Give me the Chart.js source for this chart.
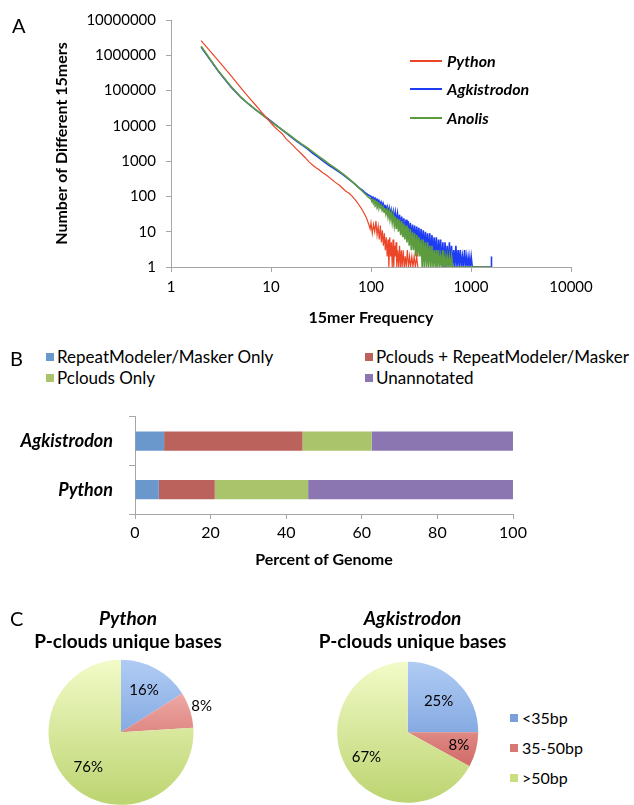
<!DOCTYPE html>
<html><head><meta charset="utf-8">
<script src="https://cdn.jsdelivr.net/npm/chart.js@4.4.1/dist/chart.umd.min.js"></script>
<style>
html,body{margin:0;padding:0;background:#fff;}
body{width:634px;height:805px;position:relative;overflow:hidden;font-family:Lato,"Open Sans",sans-serif;color:#000;}
.abs{position:absolute;white-space:nowrap;}
canvas{display:block}
.lbl{position:absolute;white-space:nowrap;height:24px;line-height:24px;}
</style></head><body>
<div class="abs" style="left:0;top:0;"><canvas id="cA" width="634" height="335"></canvas></div>
<div class="abs" style="left:0;top:390px;"><canvas id="cB" width="634" height="185"></canvas></div>
<div class="abs" style="left:0;top:650px;"><canvas id="cC1" width="260" height="155"></canvas></div>
<div class="abs" style="left:290px;top:650px;"><canvas id="cC2" width="210" height="155"></canvas></div>
<div id="overlay"></div>
<script>
// ---------- Panel A data ----------
const lineSeriesNames = ['Python', 'Agkistrodon', 'Anolis'];
const pythonFreq  = [2,3,4,5,6,7,8,9,10,11,12,13,14,15,16,18,20,22,24,26,28,30,33,36,40,44,48,52,56,60,65,70,75,80,85,90,95,98,100,103,106,109,112,115,118,121,124,127,130,133,136,139,142,145,148,151,154,157,160,163,166,169,172,175,178,181,185,189,193,197,201,205,210,215,220,225,231,237,243,249,256,263,270,278,286,294];
const pythonCount = [2600000,680000,260000,120000,64000,39000,25000,17000,12000,9000,7200,5900,4400,3700,3100,2200,1650,1250,950,780,660,580,470,400,310,250,210,170,140,125,100,78,60,46,34,25,16,12,18,9,16,10,20,8,14,6,15,5,11,4,9,3,7,2,6,1,7,2,5,1,6,1,4,2,5,1,3,1,4,1,3,1,3,1,2,1,3,1,2,1,2,1,2,1,2,1];
const agkFreq  = [2,3,4,5,6,7,8,9,10,12,14,16,18,20,23,26,30,34,38,42,47,52,58,64,70,76,82,88,94,100,102,105,107,110,112,115,117,120,123,126,129,132,135,138,141,145,148,152,155,159,163,167,171,175,179,184,188,193,198,203,208,213,218,224,229,235,241,247,253,260,266,273,280,287,294,301,309,317,325,333,341,350,359,368,377,387,397,407,417,428,439,450,461,473,485,497,510,523,536,550,564,578,593,608,623,639,655,672,689,706,724,743,762,781,801,821,842,863,885,908,931,955,979,1004,1030,1595,1600,1605];
const agkCount = [1700000,340000,125000,64000,41000,29000,22000,17000,13500,9000,6400,4800,3700,3000,2250,1700,1250,960,760,640,510,420,330,265,215,175,150,125,110,100,88,94,80,88,74,82,68,76,60,70,54,64,48,58,42,52,36,48,30,42,26,38,22,35,18,32,15,30,13,27,11,24,9,22,8,20,7,18,6,16,5,15,5,14,4,13,4,12,3,11,3,10,3,9,2,9,2,8,2,7,2,7,1,6,2,6,1,5,1,5,1,4,1,5,1,4,1,3,1,4,1,3,1,3,1,2,1,3,1,2,1,2,1,2,1,1,2,1];
const anolisFreq  = [2,3,4,5,6,7,8,9,10,12,14,16,18,20,23,26,30,34,38,42,47,52,58,64,70,76,82,88,94,100,102,105,107,110,112,115,117,120,123,126,129,132,135,138,141,145,148,152,155,159,163,167,171,175,179,184,188,193,198,203,208,213,218,224,229,235,241,247,253,260,266,273,280,287,294,301,309,317,325,333,341,350,359,368,377,387,397,407,417,428,439,450,461,473,485,497,510,523,536,550,564,578,593,608,623,639,655,689,1600];
const anolisCount = [1800000,350000,128000,65000,41000,29000,21500,16500,13000,9000,6600,5000,3900,3150,2400,1850,1370,1060,840,690,550,440,345,270,215,172,140,115,96,84,74,80,66,74,60,68,54,62,47,56,41,50,36,46,31,42,26,38,22,34,18,30,15,27,12,24,10,22,8,20,7,17,6,15,5,13,4,12,3,10,3,9,2,8,2,7,2,6,1,6,1,5,1,5,1,4,1,4,1,3,1,3,1,3,1,2,1,3,1,2,1,2,1,2,1,2,1,1,1];
const countTicks = [1,10,100,1000,10000,100000,1000000,10000000];
const freqTicks = [1,10,100,1000,10000];

// ---------- Panel B data ----------
const barCategories = ['Agkistrodon', 'Python'];
const barSeriesNames = ['RepeatModeler/Masker Only', 'Pclouds + RepeatModeler/Masker', 'Pclouds Only', 'Unannotated'];
const repeatModelerOnly = [7.7, 6.3];
const pcloudsPlusRepeat = [36.6, 14.8];
const pcloudsOnly = [18.3, 24.7];
const unannotated = [37.4, 54.2];
const percentTicks = [0, 20, 40, 60, 80, 100];

// ---------- Panel C data ----------
const pieCategories = ['<35bp', '35-50bp', '>50bp'];
const pythonPie = [16, 8, 76];
const agkPie = [25, 8, 67];
const pieTitles = [['Python', 'P-clouds unique bases'], ['Agkistrodon', 'P-clouds unique bases']];

// ---------- styles ----------
const FONT = 'Lato';
const lineColors = ['#ec4528', '#1f3cf5', '#5c9c3f'];
const lineWidths = [1.2, 1.6, 1.6];
const barColors = ['#6b98cc', '#bb625c', '#a9c46a', '#8b76b2'];
const pieTop = ['#b0ccf4', '#fbc4c0', '#f2fbc8'];
const pieBottom = ['#5b88cf', '#c24c48', '#bcd470'];
const pieLegendColors = ['#7aa0dc', '#d87874', '#c8e080'];
const axisGray = '#a6a6a6';

Chart.defaults.font.family = FONT;
Chart.defaults.color = '#000';

// ---------- Panel A ----------
const seriesA = [[pythonFreq, pythonCount], [agkFreq, agkCount], [anolisFreq, anolisCount]];
new Chart(document.getElementById('cA'), {
  type: 'line',
  data: {
    datasets: seriesA.map(([f, c], i) => ({
      label: lineSeriesNames[i],
      data: f.map((x, j) => ({x: x, y: c[j]})),
      borderColor: lineColors[i],
      backgroundColor: lineColors[i],
      borderWidth: lineWidths[i],
      pointRadius: 0,
      tension: 0,
      order: [0, 2, 1][i]
    }))
  },
  options: {
    responsive: false, animation: false,
    layout: {padding: {left: 0, right: 63, top: 20, bottom: 0}},
    plugins: {legend: {display: false}, tooltip: {enabled: false}},
    scales: {
      x: {
        type: 'logarithmic', min: 1, max: 10000,
        afterBuildTicks: s => { s.ticks = freqTicks.map(v => ({value: v})); },
        afterFit: s => { s.height = 68; },
        grid: {drawOnChartArea: false, drawTicks: true, tickLength: 5, color: axisGray},
        border: {color: axisGray, width: 1},
        ticks: {font: {size: 15}, color: '#000', padding: 6, maxRotation: 0, autoSkip: false, callback: v => String(v)},
        title: {display: true, text: '15mer Frequency', font: {size: 16, weight: 'bold'}, color: '#000', padding: {top: 0, bottom: 7.4}}
      },
      y: {
        type: 'logarithmic', min: 1, max: 10000000,
        afterBuildTicks: s => { s.ticks = countTicks.map(v => ({value: v})); },
        afterFit: s => { s.width = 171; },
        grid: {drawOnChartArea: false, drawTicks: true, tickLength: 5, color: axisGray},
        border: {color: axisGray, width: 1},
        ticks: {font: {size: 15}, color: '#000', padding: 10, autoSkip: false, callback: v => String(v)},
        title: {display: true, text: 'Number of Different 15mers', font: {size: 16, weight: 'bold'}, color: '#000', padding: {top: 52.4, bottom: 0}}
      }
    }
  }
});

// ---------- Panel B ----------
const barSeries = [repeatModelerOnly, pcloudsPlusRepeat, pcloudsOnly, unannotated];
new Chart(document.getElementById('cB'), {
  type: 'bar',
  data: {
    labels: barCategories,
    datasets: barSeries.map((d, i) => ({
      label: barSeriesNames[i], data: d, backgroundColor: barColors[i], borderWidth: 0,
      barPercentage: 0.395, categoryPercentage: 1
    }))
  },
  options: {
    indexAxis: 'y', responsive: false, animation: false,
    layout: {padding: {left: 0, right: 121, top: 10, bottom: 0}},
    plugins: {legend: {display: false}, tooltip: {enabled: false}},
    scales: {
      x: {
        stacked: true, min: 0, max: 100,
        afterBuildTicks: s => { s.ticks = percentTicks.map(v => ({value: v})); },
        afterFit: s => { s.height = 61; },
        grid: {drawOnChartArea: false, drawTicks: true, tickLength: 5, color: axisGray},
        border: {color: axisGray, width: 1},
        ticks: {font: {size: 16}, color: '#000', padding: 4, maxRotation: 0},
        title: {display: true, text: 'Percent of Genome', font: {size: 16, weight: 'bold'}, color: '#000', padding: {top: 0, bottom: 5.4}}
      },
      y: {
        stacked: true,
        afterFit: s => { s.width = 135; },
        grid: {offset: true, drawOnChartArea: false, drawTicks: true, tickLength: 6, color: axisGray},
        border: {color: axisGray, width: 1},
        ticks: {font: {size: 18, weight: 'bold', style: 'italic'}, color: '#000', padding: 16}
      }
    }
  }
});

// ---------- Panel C ----------
const pieLabelPlugin = {
  id: 'pieLabels',
  afterDatasetsDraw(chart, args, opts) {
    const ctx = chart.ctx;
    const meta = chart.getDatasetMeta(0);
    const vals = chart.data.datasets[0].data;
    ctx.save();
    ctx.font = '15px ' + FONT;
    ctx.fillStyle = '#000';
    ctx.textAlign = 'center';
    ctx.textBaseline = 'middle';
    meta.data.forEach((arc, i) => {
      const p = arc.getProps(['x', 'y', 'startAngle', 'endAngle', 'outerRadius'], true);
      const mid = (p.startAngle + p.endAngle) / 2;
      const r = p.outerRadius * opts.radiusFactors[i];
      ctx.fillText(vals[i] + '%', p.x + Math.cos(mid) * r, p.y + Math.sin(mid) * r);
    });
    ctx.restore();
  }
};
function pieFill(c) {
  const i = c.dataIndex;
  const a = c.chart.chartArea;
  if (!a) return pieLegendColors[i];
  const g = c.chart.ctx.createLinearGradient(0, a.top, 0, a.bottom);
  g.addColorStop(0, pieTop[i]);
  g.addColorStop(1, pieBottom[i]);
  return g;
}
function makePie(id, values, padding, radiusFactors) {
  new Chart(document.getElementById(id), {
    type: 'pie',
    data: {labels: pieCategories, datasets: [{data: values, backgroundColor: pieFill, borderWidth: 0}]},
    options: {
      responsive: false, animation: false,
      layout: {padding: padding},
      plugins: {legend: {display: false}, tooltip: {enabled: false}, pieLabels: {radiusFactors: radiusFactors}}
    },
    plugins: [pieLabelPlugin]
  });
}
makePie('cC1', pythonPie, {left: 48.5, right: 66.5, top: 9.8, bottom: 0.2}, [0.66, 1.17, 0.66]);
makePie('cC2', agkPie, {left: 47.2, right: 21.8, top: 11.8, bottom: 2.2}, [0.62, 0.75, 0.68]);

// ---------- HTML text: panel letters, legends, pie titles ----------
const ov = document.getElementById('overlay');
function addText(text, x, cy, style, align) {
  const d = document.createElement('div');
  d.className = 'lbl';
  d.textContent = text;
  d.style.top = (cy - 12) + 'px';
  if (align === 'center') { d.style.left = (x - 200) + 'px'; d.style.width = '400px'; d.style.textAlign = 'center'; }
  else d.style.left = x + 'px';
  Object.assign(d.style, style || {});
  ov.appendChild(d);
  return d;
}
function addBox(x, y, w, h, color) {
  const d = document.createElement('div');
  d.className = 'abs';
  Object.assign(d.style, {left: x + 'px', top: y + 'px', width: w + 'px', height: h + 'px', background: color});
  ov.appendChild(d);
}
// panel letters
addText('A', 12, 25, {fontSize: '20px'});
addText('B', 10, 358, {fontSize: '20px'});
addText('C', 10, 617.5, {fontSize: '20px'});
// legend A
const legAY = [60.5, 89.3, 118.3];
lineSeriesNames.forEach((n, i) => {
  addBox(410, legAY[i] - 1, 32, 2, lineColors[i]);
  addText(n, 447, legAY[i], {fontSize: '16px', fontWeight: 'bold', fontStyle: 'italic'});
});
// legend B
const legBX = [[45.7, 57], [365, 376]];
const legBY = [356.7, 378.3];
barSeriesNames.forEach((n, i) => {
  const col = i % 2, row = Math.floor(i / 2);
  addBox(legBX[col][0], legBY[row] - 4, 8.3, 8, barColors[i]);
  addText(n, legBX[col][1], legBY[row], {fontSize: '17px'});
});
// pie titles
const titleX = [128, 412.6];
pieTitles.forEach((t, i) => {
  addText(t[0], titleX[i], 618, {fontSize: '19px', fontWeight: 'bold', fontStyle: 'italic'}, 'center');
  addText(t[1], titleX[i], 640.7, {fontSize: '19px', fontWeight: 'bold'}, 'center');
});
// legend C
const legCY = [718.3, 748.3, 778.3];
pieCategories.forEach((n, i) => {
  addBox(510, legCY[i] - 4, 8, 8, pieLegendColors[i]);
  addText(n, 522, legCY[i], {fontSize: '16px'});
});
</script>
</body></html>
